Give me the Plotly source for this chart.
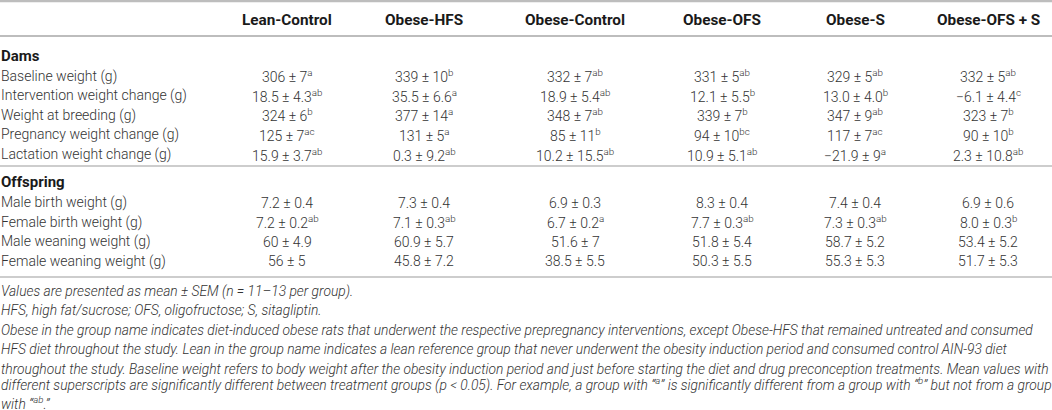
import plotly.graph_objects as go

# column headers
groups = ["Lean-Control", "Obese-HFS", "Obese-Control", "Obese-OFS", "Obese-S", "Obese-OFS + S"]

# dams section
dams_labels = ["Baseline weight (g)", "Intervention weight change (g)", "Weight at breeding (g)",
               "Pregnancy weight change (g)", "Lactation weight change (g)"]
dams_mean = [
    ["306", "339", "332", "331", "329", "332"],
    ["18.5", "35.5", "18.9", "12.1", "13.0", "\u22126.1"],
    ["324", "377", "348", "339", "347", "323"],
    ["125", "131", "85", "94", "117", "90"],
    ["15.9", "0.3", "10.2", "10.9", "\u221221.9", "2.3"],
]
dams_sem = [
    ["7", "10", "7", "5", "5", "5"],
    ["4.3", "6.6", "5.4", "5.5", "4.0", "4.4"],
    ["6", "14", "7", "7", "9", "7"],
    ["7", "5", "11", "10", "7", "10"],
    ["3.7", "9.2", "15.5", "5.1", "9", "10.8"],
]
dams_sig = [
    ["a", "b", "ab", "ab", "ab", "ab"],
    ["ab", "a", "ab", "b", "b", "c"],
    ["b", "a", "ab", "b", "ab", "b"],
    ["ac", "a", "b", "bc", "ac", "b"],
    ["ab", "ab", "ab", "ab", "a", "ab"],
]

# offspring section
offspring_labels = ["Male birth weight (g)", "Female birth weight (g)",
                    "Male weaning weight (g)", "Female weaning weight (g)"]
offspring_mean = [
    ["7.2", "7.3", "6.9", "8.3", "7.4", "6.9"],
    ["7.2", "7.1", "6.7", "7.7", "7.3", "8.0"],
    ["60", "60.9", "51.6", "51.8", "58.7", "53.4"],
    ["56", "45.8", "38.5", "50.3", "55.3", "51.7"],
]
offspring_sem = [
    ["0.4", "0.4", "0.3", "0.4", "0.4", "0.6"],
    ["0.2", "0.3", "0.2", "0.3", "0.3", "0.3"],
    ["4.9", "5.7", "7", "5.4", "5.2", "5.2"],
    ["5", "7.2", "5.5", "5.5", "5.3", "5.3"],
]
offspring_sig = [
    ["", "", "", "", "", ""],
    ["ab", "ab", "a", "ab", "ab", "b"],
    ["", "", "", "", "", ""],
    ["", "", "", "", "", ""],
]

footnotes = [
    "Values are presented as mean \u00b1 SEM (n = 11\u201313 per group).",
    "HFS, high fat/sucrose; OFS, oligofructose; S, sitagliptin.",
    "Obese in the group name indicates diet-induced obese rats that underwent the respective prepregnancy interventions, except Obese-HFS that remained untreated and consumed",
    "HFS diet throughout the study. Lean in the group name indicates a lean reference group that never underwent the obesity induction period and consumed control AIN-93 diet",
    "throughout the study. Baseline weight refers to body weight after the obesity induction period and just before starting the diet and drug preconception treatments. Mean values with",
    "different superscripts are significantly different between treatment groups (p < 0.05). For example, a group with \u201c<sup>a</sup>\u201d is significantly different from a group with \u201c<sup>b</sup>\u201d but not from a group",
    "with \u201c<sup>ab</sup>.\u201d",
]

# layout of the table (pixel-like coordinates)
col_x = [287, 424, 575, 722, 855, 988]
header_y = 20
dams_y = 55.5
offspring_y = 182
row_step = 19.6
foot_y = 291
foot_step = 19.4

FONT = "Roboto"
TXT = "#333333"
HEAD = "#1a1a1a"
RULE = "#bdbdbd"

fig = go.Figure()
fig.add_trace(go.Scatter(x=[0, 1052], y=[0, 410], mode="markers",
                         marker=dict(opacity=0), hoverinfo="skip", showlegend=False))

ann = []


def cell(x, y, text, anchor="center", bold=False, italic=False, size=14, color=TXT):
    # a <sup> makes the text box taller on top, so nudge it back up
    lift = 4 if (italic and "<sup>" in text) else 0
    ann.append(dict(x=x, y=y, xref="x", yref="y", text=text, showarrow=False,
                    xanchor=anchor, yanchor="middle",
                    xshift=-2 if anchor == "left" else 0, yshift=lift,
                    font=dict(family=FONT, size=size, color=color,
                              weight=700 if bold else 300,
                              style="italic" if italic else "normal")))


for j, g in enumerate(groups):
    cell(col_x[j], header_y, g, bold=True, size=15.3, color=HEAD)


def section(title, y0, labels, means, sems, sigs):
    cell(1, y0, title, anchor="left", bold=True, size=15, color=HEAD)
    for i, lab in enumerate(labels):
        y = y0 + row_step * (i + 1) + 1
        cell(1, y, lab, anchor="left")
        for j in range(len(groups)):
            txt = means[i][j] + " \u00b1 " + sems[i][j]
            if sigs[i][j]:
                txt += "<sup>" + sigs[i][j] + "</sup>"
            cell(col_x[j], y, txt)


section("Dams", dams_y, dams_labels, dams_mean, dams_sem, dams_sig)
section("Offspring", offspring_y, offspring_labels, offspring_mean, offspring_sem, offspring_sig)

for k, line in enumerate(footnotes):
    cell(1, foot_y + foot_step * k, line, anchor="left", italic=True, size=13.8)

rules = [(1, 2.5), (36, 2), (166, 1.5), (277, 1.5)]
shapes = [dict(type="line", xref="paper", yref="y", x0=0, x1=1, y0=yy, y1=yy,
               line=dict(color=RULE, width=w)) for yy, w in rules]

fig.update_layout(
    width=1052, height=410,
    margin=dict(l=0, r=0, t=0, b=0),
    paper_bgcolor="white", plot_bgcolor="white",
    xaxis=dict(range=[0, 1052], visible=False, fixedrange=True),
    yaxis=dict(range=[410, 0], visible=False, fixedrange=True),
    annotations=ann,
    shapes=shapes,
)

# drop the browser's default 8px body margin so the table sits flush
fig.write_html("out.html", config={"displayModeBar": False},
               post_script="document.body.style.margin = '0';")
